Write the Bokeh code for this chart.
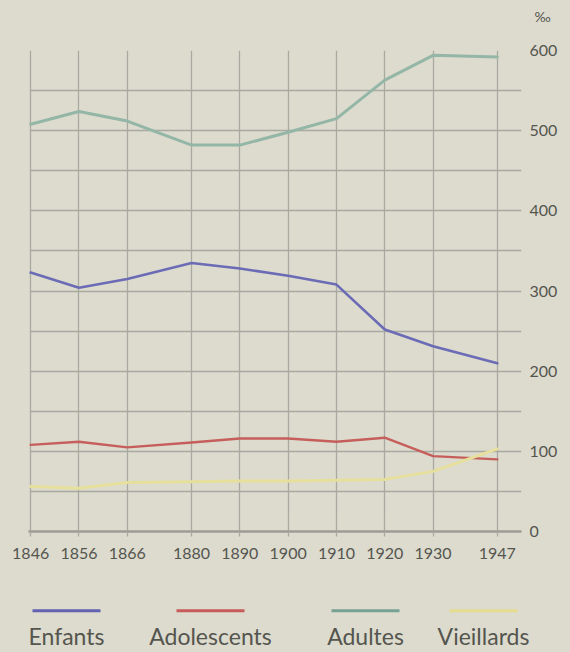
from bokeh.plotting import figure
from bokeh.models import FactorRange, Range1d, FixedTicker, ColumnDataSource
from bokeh.layouts import column
from bokeh.embed import file_html
from bokeh.resources import INLINE

# ---- data (per mille of population) ----
years = ["1846", "1856", "1866", "1880", "1890", "1900", "1910", "1920", "1930", "1947"]
enfants = [323, 304, 315, 335, 328, 319, 308, 252, 231, 210]
adolescents = [108, 112, 105, 111, 116, 116, 112, 117, 94, 90]
adultes = [508, 524, 512, 482, 482, 498, 515, 563, 594, 592]
vieillards = [56, 54, 61, 62, 63, 63, 64, 65, 75, 103]

series_names = ["Enfants", "Adolescents", "Adultes", "Vieillards"]
series_values = [enfants, adolescents, adultes, vieillards]
series_colors = ["#6b6bb6", "#c65f5b", "#94b6a7", "#e7df9c"]
legend_colors = ["#6262b0", "#c75b58", "#77a292", "#e5dc8e"]

y_label_ticks = [0, 100, 200, 300, 400, 500, 600]
y_grid_ticks = [0, 50, 100, 150, 200, 250, 300, 350, 400, 450, 500, 550, 600]
unit_label = "‰"

# ---- styling ----
BG = "#dcdbce"
GRID = "#a9a9a1"
AXIS = "#9c9c96"
TXT = "#55554f"
FONT = "Lato"
W = 565
BL, BR = 6, 44


def panel(height, **kw):
    f = figure(width=W, height=height, output_backend="svg", toolbar_location=None,
               min_border_left=BL, min_border_right=BR,
               background_fill_color=BG, border_fill_color=BG, outline_line_color=None, **kw)
    return f


def plain_axis(ax, size):
    ax.axis_line_color = None
    ax.major_tick_line_color = None
    ax.minor_tick_line_color = None
    ax.major_tick_out = 0
    ax.major_tick_in = 0
    ax.minor_tick_out = 0
    ax.minor_tick_in = 0
    ax.major_label_text_font = FONT
    ax.major_label_text_font_size = size
    ax.major_label_text_color = TXT


# ---- top strip: unit sign above the value axis ----
tf = panel(30, x_range=Range1d(0, 1), y_range=Range1d(0, 30), min_border_top=0, min_border_bottom=0,
           x_axis_location=None, y_axis_location="right")
tf.grid.visible = False
ua = tf.yaxis[0]
ua.ticker = FixedTicker(ticks=[14])
ua.major_label_overrides = {14: unit_label}
plain_axis(ua, "14px")
ua.major_label_standoff = 13

# ---- main chart ----
# the time axis puts an extra gap where more than a decade separates two surveys
groups = []
g = 0
for i, yr in enumerate(years):
    if i > 0 and int(yr) - int(years[i - 1]) > 10:
        g += 1
    groups.append(str(g))
x_factors = list(zip(groups, years))
GP = 0.33

x_range = FactorRange(factors=x_factors, group_padding=GP, factor_padding=0, range_padding=0)
x_end = len(years) + GP * (len(set(groups)) - 1)

p = panel(549, x_range=x_range, y_range=Range1d(0, 600), y_axis_location="right",
          min_border_top=20, min_border_bottom=48)

widths = [2.6, 2.4, 3.0, 3.0]
for name, vals, col, w in zip(series_names, series_values, series_colors, widths):
    src = ColumnDataSource(dict(x=x_factors, y=vals))
    p.line("x", "y", source=src, line_color=col, line_width=w, line_join="round", line_cap="round")

p.xgrid.grid_line_color = GRID
p.xgrid.grid_line_width = 1.3
p.ygrid.ticker = FixedTicker(ticks=y_grid_ticks)
p.ygrid.grid_line_color = GRID
p.ygrid.grid_line_width = 1.3
try:
    p.ygrid.cross_bounds = (0.5, x_end)
except Exception:
    pass

xa = p.xaxis[0]
xa.axis_line_color = AXIS
xa.axis_line_width = 2.5
xa.major_tick_out = 5
xa.major_tick_in = 0
xa.major_tick_line_color = GRID
xa.major_tick_line_width = 1.3
xa.major_label_text_font = FONT
xa.major_label_text_font_size = "16px"
xa.major_label_text_color = TXT
xa.major_label_standoff = 11
xa.major_label_orientation = "horizontal"
xa.group_text_font_size = "0px"
xa.group_text_color = None
xa.separator_line_color = None
try:
    xa.bounds = (0.45, x_end)
except Exception:
    pass

ya = p.yaxis[0]
ya.ticker = FixedTicker(ticks=y_label_ticks)
plain_axis(ya, "16px")
ya.major_label_standoff = 8

# ---- legend strip ----
legend_centers = [66, 210, 365, 483]
half = 34
lg = panel(73, x_range=Range1d(BL, W - BR), y_range=Range1d(0, 40),
           min_border_top=0, min_border_bottom=33, y_axis_location=None)
lg.grid.visible = False
lg.segment(x0=[c - half for c in legend_centers], x1=[c + half for c in legend_centers],
           y0=[8] * 4, y1=[8] * 4, line_color=legend_colors, line_width=3)
la = lg.xaxis[0]
la.ticker = FixedTicker(ticks=legend_centers)
la.major_label_overrides = {c: n for c, n in zip(legend_centers, series_names)}
plain_axis(la, "23px")
la.major_label_standoff = 3

layout = column(tf, p, lg, spacing=0)
html = file_html(layout, INLINE, title="Population par âge")
html = html.replace("<head>", "<head><style>html, body {background-color: %s;}</style>" % BG, 1)
open("out.html", "w").write(html)
